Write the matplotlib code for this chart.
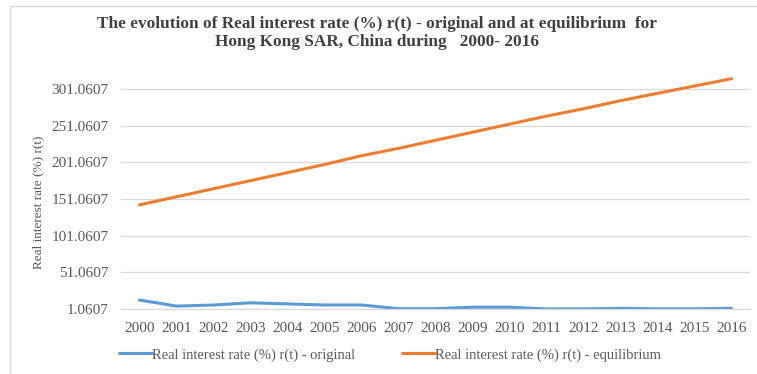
import matplotlib
matplotlib.use("Agg")
import matplotlib.pyplot as plt
from matplotlib.patches import Rectangle

# ── Data ──────────────────────────────────────────────────────────────────────
years = list(range(2000, 2017))
r_original = [13.3, 5.0, 6.5, 9.5, 8.0, 6.5, 6.5, 1.5, 1.5, 3.5,
              3.5, 1.1, 1.2, 2.0, 1.3, 1.3, 2.0]
r_equilibrium = [143, 154, 165, 176, 187, 198, 210, 220, 231, 242,
                 253, 264, 274, 285, 295, 305, 315]
y_ticks = [1.0607, 51.0607, 101.0607, 151.0607, 201.0607, 251.0607, 301.0607]

BLUE = "#5B9BD5"
ORANGE = "#ED7D31"
GREY_TXT = "#595959"

plt.rcParams["font.family"] = ["Liberation Serif", "DejaVu Serif"]

fig = plt.figure(figsize=(7.57, 3.74), dpi=100)
ax = fig.add_axes([121 / 757, 1 - 309 / 374, 629 / 757, 234 / 374])

x = list(range(len(years)))
ax.plot(x, r_original, color=BLUE, lw=2.2, solid_capstyle="round",
        label="Real interest rate (%) r(t) - original")
ax.plot(x, r_equilibrium, color=ORANGE, lw=2.2, solid_capstyle="round",
        label="Real interest rate (%) r(t) - equilibrium")

ax.set_xlim(-0.5, len(years) - 0.5)
ax.set_ylim(1.0607, 320)
ax.set_xticks(x)
ax.set_xticklabels([str(y) for y in years])
ax.set_yticks(y_ticks)
ax.set_yticklabels([f"{v:.4f}" for v in y_ticks])
ax.tick_params(length=0, labelsize=11, colors=GREY_TXT, pad=9)
ax.tick_params(axis="x", pad=9)
ax.grid(axis="y", color="#D9D9D9", lw=0.9)
ax.set_axisbelow(True)
for s in ["top", "right", "left"]:
    ax.spines[s].set_visible(False)
ax.spines["bottom"].set_color("#D9D9D9")
ax.spines["bottom"].set_linewidth(0.9)

fig.text(38 / 757, 1 - 202 / 374, "Real interest rate (%) r(t)", rotation=90,
         ha="center", va="center", fontsize=9.5, color=GREY_TXT)

fig.text(377 / 757, 1 - 33 / 374,
         "The evolution of Real interest rate (%) r(t) - original and at equilibrium  for\n"
         "Hong Kong SAR, China during   2000- 2016",
         ha="center", va="center", fontsize=12.4, fontweight="bold",
         color="#404040", linespacing=1.2)

fig.legend(loc="center", bbox_to_anchor=(390 / 757, 1 - 355 / 374), ncol=2,
           frameon=False, fontsize=10.5, handlelength=2.3, handletextpad=0.0,
           columnspacing=3.2, labelcolor=GREY_TXT)

fig.patches.append(Rectangle((10 / 757, -0.01), 1.0, 1 - 6 / 374 + 0.01,
                             transform=fig.transFigure, fill=False,
                             edgecolor="#D9D9D9", lw=1.0))

fig.savefig("out.png", dpi=100)
